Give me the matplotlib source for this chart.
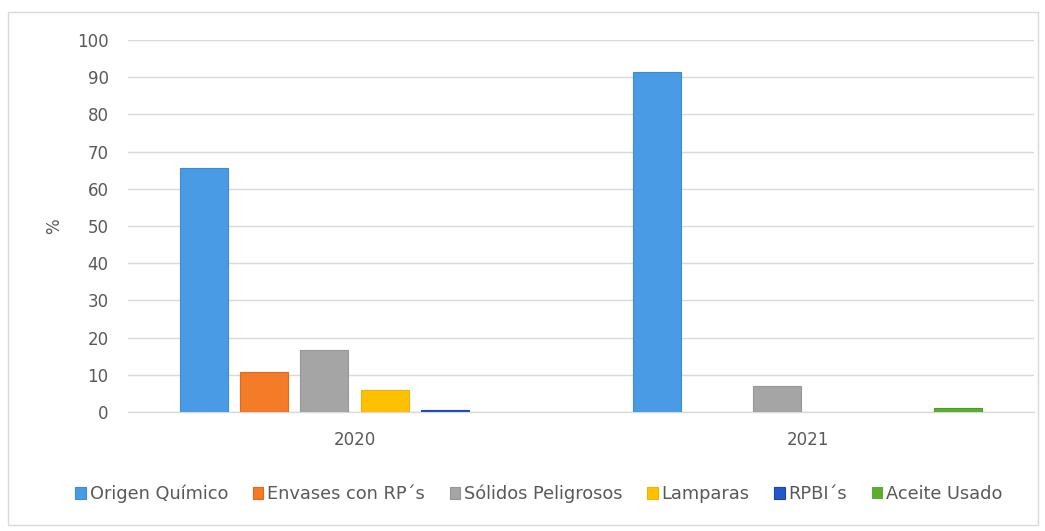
import matplotlib
matplotlib.use("Agg")
import matplotlib.pyplot as plt
import numpy as np
from matplotlib.patches import Rectangle

categories = ["2020", "2021"]
series_names = ["Origen Químico", "Envases con RP´s", "Sólidos Peligrosos",
                "Lamparas", "RPBI´s", "Aceite Usado"]
origen = [65.7, 91.5]
envases = [10.8, 0.0]
solidos = [16.8, 7.0]
lamparas = [5.9, 0.0]
rpbi = [0.5, 0.0]
aceite = [0.0, 1.0]
values = [origen, envases, solidos, lamparas, rpbi, aceite]
colors = ["#4A9BE6", "#F47B28", "#A5A5A5", "#FFC000", "#2458C8", "#5DAE2E"]
edges = ["#3F8AD6", "#E06A1C", "#969696", "#F0B400", "#1C47A8", "#4F9A26"]
yticks = [0, 10, 20, 30, 40, 50, 60, 70, 80, 90, 100]

plt.rcParams['font.family'] = ['DejaVu Sans']
fig = plt.figure(figsize=(10.45, 5.31), dpi=100)
fig.patches.append(Rectangle((8/1045, 1-525/531), 1030/1045, 513/531,
                             transform=fig.transFigure, fill=False,
                             edgecolor="#D9D9D9", linewidth=1.0))
ax = fig.add_axes([128/1045, 119/531, 906/1045, 372/531])

x = np.arange(len(categories))
slot = 0.133
width = 0.106
n = len(series_names)
for i, (name, vals) in enumerate(zip(series_names, values)):
    offs = (i - (n - 1) / 2) * slot
    lws = [0.8 if v > 0 else 0 for v in vals]
    ax.bar(x + offs, vals, width, color=colors[i], edgecolor=edges[i],
           linewidth=lws, label=name, zorder=3)

ax.set_xlim(-0.5, 1.5)
ax.set_ylim(0, 100)
ax.set_yticks(yticks)
ax.set_xticks(x)
ax.set_xticklabels(categories)
ax.yaxis.grid(True, color="#D9D9D9", linewidth=1.0, zorder=0)
for s in ["top", "right", "left"]:
    ax.spines[s].set_visible(False)
ax.spines["bottom"].set_color("#D9D9D9")
ax.spines["bottom"].set_linewidth(1.0)
ax.tick_params(axis="both", length=0, labelsize=12, colors="#595959")
ax.tick_params(axis="y", pad=14)
ax.tick_params(axis="x", pad=14)
ax.set_ylabel("%", fontsize=12, color="#595959", labelpad=10)

fig.legend(loc="center", bbox_to_anchor=(539/1045, 1-494/531), ncol=6,
           frameon=False, fontsize=12.8, labelcolor="#595959",
           handlelength=0.6, handleheight=0.6, handletextpad=0.2,
           columnspacing=1.4)

fig.savefig("out.png", dpi=100)
